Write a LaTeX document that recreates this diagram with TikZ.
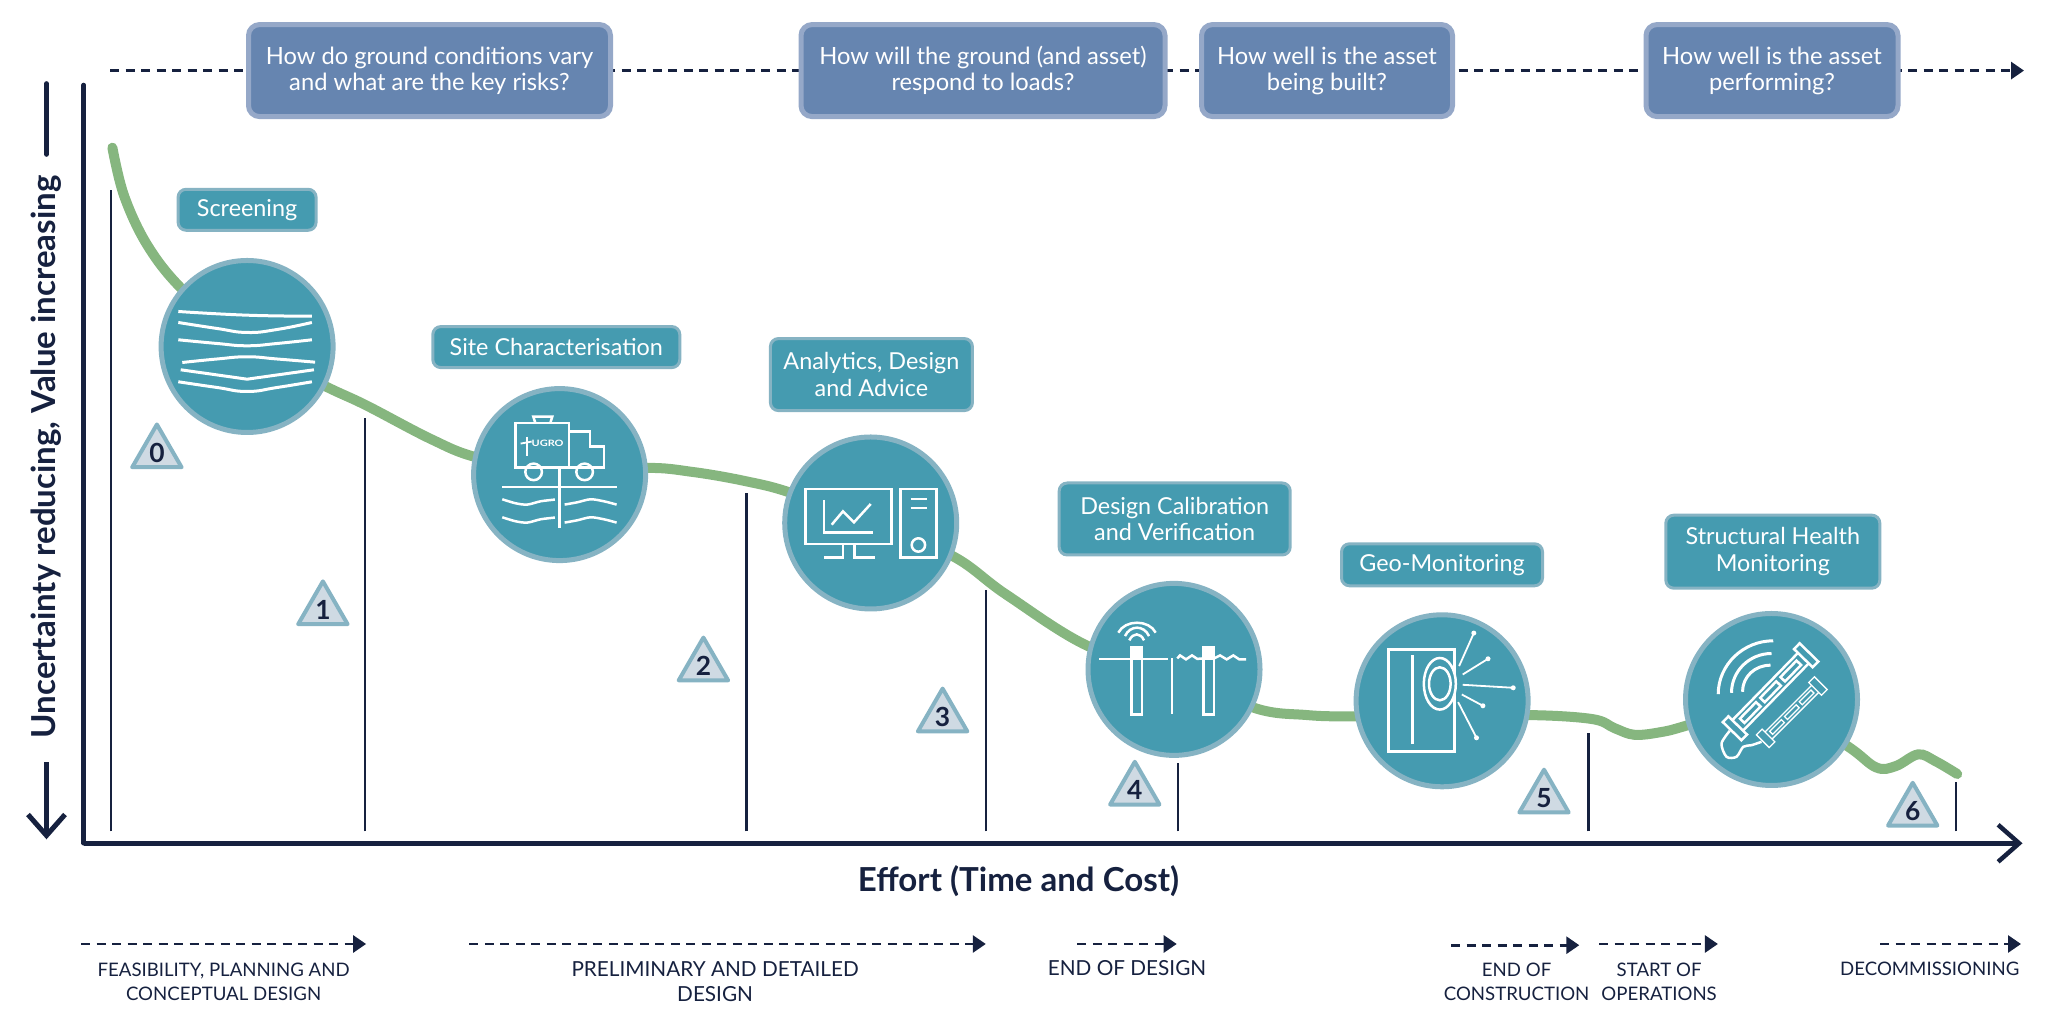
\documentclass[tikz,border=0pt]{standalone}
\usepackage{fontspec}
\usepackage{graphicx}
\setmainfont{Lato}
\usetikzlibrary{arrows.meta,shapes.geometric,backgrounds}
\definecolor{navy}{HTML}{16213F}
\definecolor{teal1}{HTML}{459BB0}
\definecolor{teal2}{HTML}{86B3C3}
\definecolor{blue1}{HTML}{6685B0}
\definecolor{blue2}{HTML}{95A8C8}
\definecolor{green1}{HTML}{86B67F}
\definecolor{tri1}{HTML}{CFDAE3}
\tikzset{
  qbox/.style={draw=blue2, fill=blue1, line width=0.05cm, rounded corners=0.11cm, align=center, text=white, inner sep=0pt, font=\fontsize{6.75}{7.4}\selectfont},
  stagebox/.style={draw=teal2, fill=teal1, line width=0.03cm, rounded corners=0.08cm, align=center, text=white, inner sep=0pt, font=\fontsize{6.65}{7.5}\selectfont},
  stagecirc/.style={circle, draw=teal2, fill=teal1, line width=0.05cm, minimum size=1.72cm, inner sep=0pt},
  stagetri/.style={regular polygon, regular polygon sides=3, draw=teal2, fill=tri1, line width=0.04cm, line join=round, minimum size=0.57cm, inner sep=0pt, text=navy, font=\fontsize{7.5}{8}\selectfont\bfseries},
  axisline/.style={draw=navy, line width=0.045cm, -{Straight Barb[length=0.21cm,width=0.37cm]}},
  tickline/.style={draw=navy, line width=0.022cm},
  phasearrow/.style={draw=navy, line width=0.028cm, dash pattern=on 0.09cm off 0.065cm, -{Triangle[length=0.13cm,width=0.17cm]}},
  phaselabel/.style={anchor=north, align=center, text=navy, inner sep=0pt, font=\fontsize{5.3}{7}\selectfont},
  phaselarge/.style={phaselabel, font=\fontsize{5.9}{7.1}\selectfont},
  axislabel/.style={text=navy, inner sep=0pt, font=\fontsize{9.4}{10}\selectfont\bfseries},
  icon/.style={draw=white, line width=0.025cm},
}
\newcommand{\sensorbar}[3]{% half length, half width, flange half width
  \draw[icon] (-#1,-#2) rectangle (#1,#2);
  \draw[icon, fill=teal1] (-#1-0.05,-#3) rectangle (-#1+0.03,#3);
  \draw[icon, fill=teal1] (#1-0.03,-#3) rectangle (#1+0.05,#3);
  \foreach \k in {-0.58,0,0.58}
    \draw[icon] ({\k*#1-0.23*#1},{-0.42*#2}) rectangle ({\k*#1+0.23*#1},{0.42*#2});
}
\begin{document}
\begin{tikzpicture}
\useasboundingbox (0,0) rectangle (20.5,10.31);
% questions along the top
\coordinate (qstart) at (1.1,9.604);
\coordinate (qend) at (20.24,9.604);
\node[qbox, minimum width=3.62cm, minimum height=0.92cm] (q1) at (4.295,9.604) {How do ground conditions vary\\and what are the key risks?};
\node[qbox, minimum width=3.64cm, minimum height=0.92cm] (q2) at (9.83,9.604) {How will the ground (and asset)\\respond to loads?};
\node[qbox, minimum width=2.51cm, minimum height=0.92cm] (q3) at (13.27,9.604) {How well is the asset\\being built?};
\node[qbox, minimum width=2.52cm, minimum height=0.92cm] (q4) at (17.72,9.604) {How well is the asset\\performing?};
% stages
\node[stagecirc] (scr) at (2.471,6.845) {};
\node[stagecirc] (site) at (5.596,5.564) {};
\node[stagecirc] (ana) at (8.707,5.08) {};
\node[stagecirc] (cal) at (11.74,3.616) {};
\node[stagecirc] (geo) at (14.421,3.302) {};
\node[stagecirc] (shm) at (17.715,3.315) {};
\node[stagebox, minimum width=1.38cm, minimum height=0.41cm] (scrlab) at (2.471,8.212) {Screening};
\node[stagebox, minimum width=2.47cm, minimum height=0.41cm] (sitelab) at (5.563,6.839) {Site Characterisation};
\node[stagebox, minimum width=2.02cm, minimum height=0.72cm] (analab) at (8.714,6.564) {Analytics, Design\\and Advice};
\node[stagebox, minimum width=2.31cm, minimum height=0.72cm] (callab) at (11.747,5.12) {Design Calibration\\and Verification};
\node[stagebox, minimum width=2.01cm, minimum height=0.42cm] (geolab) at (14.42,4.662) {Geo-Monitoring};
\node[stagebox, minimum width=2.14cm, minimum height=0.73cm] (shmlab) at (17.728,4.793) {Structural Health\\Monitoring};
\node[stagetri] (t0) at (1.569,5.78) {0};
\node[stagetri] (t1) at (3.229,4.211) {1};
\node[stagetri] (t2) at (7.034,3.649) {2};
\node[stagetri] (t3) at (9.426,3.139) {3};
\node[stagetri] (t4) at (11.348,2.407) {4};
\node[stagetri] (t5) at (15.44,2.328) {5};
\node[stagetri] (t6) at (19.127,2.197) {6};
\begin{scope}[on background layer]
\draw[draw=navy, line width=0.03cm, dash pattern=on 0.09cm off 0.065cm, -{Triangle[length=0.13cm,width=0.17cm]}] (qstart) -- (qend);
\draw[draw=green1, line width=0.1cm, line cap=round] plot[smooth, tension=0.6] coordinates {(1.124,8.833) (1.242,8.349) (1.477,7.852) (1.83,7.408) (scr.center) (3.242,6.453) (3.661,6.257) (4.314,5.917) (4.772,5.734) (site.center) (6.445,5.63) (6.929,5.59) (7.452,5.499) (7.91,5.381) (ana.center) (9.518,4.754) (10.067,4.361) (10.904,3.838) (cal.center) (12.525,3.237) (13.074,3.159) (13.558,3.145) ([yshift=-0.16cm]geo.center) (15.297,3.159) (15.924,3.119) (16.146,3.028) (16.343,2.962) (16.604,2.988) (16.865,3.054) (shm.center) (18.46,2.858) (18.761,2.636) (18.957,2.649) (19.18,2.766) (19.349,2.701) (19.572,2.57)};
\end{scope}
% axes
\coordinate (origin) at (0.837,1.877);
\coordinate (ytop) at (0.837,9.46);
\coordinate (xend) at (20.225,1.877);
\draw[draw=navy, line width=0.045cm, line cap=round] (ytop) -- (origin);
\draw[axisline] (origin) -- (xend);
\node[axislabel] (effort) at (10.185,1.5) {Effort (Time and Cost)};
\node[axislabel, rotate=90] (uncert) at (0.458,5.741) {Uncertainty reducing, Value increasing};
\coordinate (utop) at (0.465,9.473);
\coordinate (utop2) at (0.465,8.767);
\coordinate (ubot) at (0.465,2.688);
\coordinate (ubot2) at (0.465,1.917);
\draw[draw=navy, line width=0.05cm, line cap=round] (utop) -- (utop2);
\draw[axisline, line width=0.05cm] (ubot) -- (ubot2);
\foreach \x/\y in {1.111/8.414,3.648/6.126,7.465/5.381,9.858/4.414,11.78/2.675,15.885/2.976,19.559/2.49}
  \draw[tickline] (\x,1.995) -- (\x,\y);
% phases
\draw[phasearrow] (0.811,0.87) -- (3.661,0.87);
\draw[phasearrow] (4.694,0.87) -- (9.858,0.87);
\draw[phasearrow] (10.773,0.87) -- (11.767,0.87);
\draw[phasearrow] (14.512,0.858) -- (15.793,0.858);
\draw[phasearrow] (15.99,0.87) -- (17.179,0.87);
\draw[phasearrow] (18.8,0.87) -- (20.21,0.87);
\node[phaselabel] (p1) at (2.236,0.69) {FEASIBILITY, PLANNING AND\\CONCEPTUAL DESIGN};
\node[phaselarge] (p2) at (7.151,0.7) {PRELIMINARY AND DETAILED\\DESIGN};
\node[phaselarge] (p3) at (11.27,0.71) {END OF DESIGN};
\node[phaselabel] (p4) at (15.166,0.69) {END OF\\CONSTRUCTION};
\node[phaselabel] (p5) at (16.591,0.69) {START OF\\OPERATIONS};
\node[phaselabel] (p6) at (19.297,0.7) {DECOMMISSIONING};
% screening icon
\begin{scope}[shift={(scr.center)}, icon/.append style={line width=0.03cm}]
\draw[icon] plot[smooth, tension=0.8] coordinates {(-0.688,0.35) (0,0.313) (0.648,0.303)};
\draw[icon] plot[smooth, tension=0.8] coordinates {(-0.688,0.24) (-0.3,0.18) (0,0.14) (0.3,0.17) (0.648,0.24)};
\draw[icon] plot[smooth, tension=0.8] coordinates {(-0.688,0.067) (-0.3,0.03) (0,0.007) (0.3,0.03) (0.648,0.067)};
\draw[icon] plot[smooth, tension=0.8] coordinates {(-0.648,-0.16) (-0.3,-0.125) (0,-0.103) (0.3,-0.125) (0.68,-0.157)};
\draw[icon] (-0.664,-0.233) -- (0,-0.327) -- (0.668,-0.233);
\draw[icon] plot[smooth, tension=0.8] coordinates {(-0.688,-0.353) (-0.3,-0.41) (0,-0.45) (0.3,-0.41) (0.648,-0.353)};
\end{scope}
% truck icon
\begin{scope}[shift={(site.center)}]
\draw[icon] (-0.44,0.073) rectangle (0.093,0.517);
\draw[icon] (-0.243,0.517) -- (-0.263,0.58) -- (-0.073,0.58) -- (-0.093,0.517);
\draw[icon] (0.093,0.43) -- (0.303,0.43) -- (0.303,0.28) -- (0.443,0.28) -- (0.443,0.073) -- (0.093,0.073);
\draw[icon] (-0.26,0.027) circle (0.083);
\draw[icon] (0.25,0.027) circle (0.083);
\draw[icon] (-0.573,-0.123) -- (0.57,-0.123);
\draw[icon] (0,0.073) -- (0,-0.533);
\draw[icon, line width=0.018cm] (-0.39,0.31) -- (-0.28,0.33);
\draw[icon, line width=0.018cm] (-0.325,0.38) -- (-0.325,0.19);
\node[text=white, inner sep=0pt, font=\fontsize{2.5}{3}\selectfont\bfseries] (logo) at (-0.12,0.313) {\scalebox{1.25}[1]{UGRO}};
\foreach \yy in {0,-0.18} {
  \draw[icon] plot[smooth] coordinates {(-0.573,-0.247+\yy) (-0.44,-0.287+\yy) (-0.323,-0.3+\yy) (-0.19,-0.267+\yy) (-0.047,-0.25+\yy)};
  \draw[icon] plot[smooth] coordinates {(0.05,-0.3+\yy) (0.177,-0.277+\yy) (0.31,-0.247+\yy) (0.443,-0.267+\yy) (0.57,-0.3+\yy)};
}
\end{scope}
% computer icon
\begin{scope}[shift={(ana.center)}]
\draw[icon] (-0.65,-0.21) rectangle (0.207,0.34);
\draw[icon] (-0.467,0.23) -- (-0.467,-0.093) -- (0.023,-0.093);
\draw[icon] (-0.39,-0.017) -- (-0.277,0.117) -- (-0.167,0.007) -- (0,0.19);
\draw[icon] (-0.277,-0.21) -- (-0.277,-0.343) -- (-0.467,-0.343);
\draw[icon] (-0.16,-0.21) -- (-0.16,-0.343) -- (0.043,-0.343);
\draw[icon] (0.3,-0.343) rectangle (0.66,0.34);
\draw[icon] (0.4,0.24) -- (0.56,0.24);
\draw[icon] (0.4,0.15) -- (0.56,0.15);
\draw[icon] (0.477,-0.22) circle (0.067);
\end{scope}
% wells icon
\begin{scope}[shift={(cal.center)}]
\draw[icon] (-0.747,0.103) -- (-0.063,0.103);
\draw[icon] (-0.02,0.11) -- (-0.02,-0.45);
\draw[icon, fill=teal1] (-0.423,-0.45) rectangle (-0.32,0.103);
\draw[icon, fill=white] (-0.423,0.103) rectangle (-0.32,0.223);
\draw[icon] (0.033,0.11) -- (0.06,0.14) -- (0.12,0.1) -- (0.18,0.14) -- (0.233,0.105) -- (0.293,0.11);
\draw[icon] (0.4,0.11) -- (0.46,0.14) -- (0.527,0.1) -- (0.593,0.14) -- (0.653,0.1) -- (0.72,0.1);
\draw[icon, fill=teal1] (0.293,-0.45) rectangle (0.4,0.11);
\draw[icon, fill=white] (0.293,0.11) rectangle (0.4,0.223);
\draw[icon] (-0.557,0.367) .. controls (-0.49,0.5) and (-0.25,0.5) .. (-0.183,0.367);
\draw[icon] (-0.49,0.333) .. controls (-0.44,0.445) and (-0.3,0.445) .. (-0.25,0.333);
\draw[icon] (-0.447,0.29) .. controls (-0.41,0.37) and (-0.335,0.37) .. (-0.3,0.29);
\end{scope}
% tunnel icon
\begin{scope}[shift={(geo.center)}]
\draw[icon] (-0.537,-0.507) rectangle (0.124,0.513);
\draw[icon] (-0.298,0.453) -- (-0.298,-0.43);
\draw[icon, fill=teal1] (-0.023,0.17) ellipse (0.16 and 0.258);
\draw[icon] (-0.023,0.17) ellipse (0.108 and 0.165);
\foreach \xa/\ya/\xb/\yb in {0.17/0.347/0.317/0.677,0.206/0.263/0.459/0.42,0.206/0.16/0.711/0.13,0.197/0.063/0.408/-0.05,0.16/-0.013/0.344/-0.37} {
  \draw[icon, line width=0.018cm] (\xa,\ya) -- (\xb,\yb);
  \fill[white] (\xb,\yb) circle (0.025);
}
\end{scope}
% sensor icon
\begin{scope}[shift={(shm.center)}]
\draw[icon, line width=0.03cm] (-0.533,0.053) .. controls (-0.533,0.35) and (-0.28,0.587) .. (0.017,0.587);
\draw[icon, line width=0.03cm] (-0.4,0.067) .. controls (-0.4,0.285) and (-0.22,0.46) .. (0,0.46);
\draw[icon, line width=0.03cm] (-0.29,0.077) .. controls (-0.29,0.23) and (-0.165,0.343) .. (-0.01,0.343);
\draw[icon] plot[smooth] coordinates {(-0.417,-0.313) (-0.5,-0.44) (-0.45,-0.573) (-0.35,-0.573) (-0.283,-0.473) (-0.2,-0.457) (-0.1,-0.423)};
\begin{scope}[shift={(-0.01,0.077)}, rotate=45.7]
\sensorbar{0.5}{0.075}{0.13}
\end{scope}
\begin{scope}[shift={(0.203,-0.127)}, rotate=45, icon/.append style={line width=0.013cm}]
\sensorbar{0.36}{0.05}{0.09}
\end{scope}
\end{scope}
\end{tikzpicture}
\end{document}
